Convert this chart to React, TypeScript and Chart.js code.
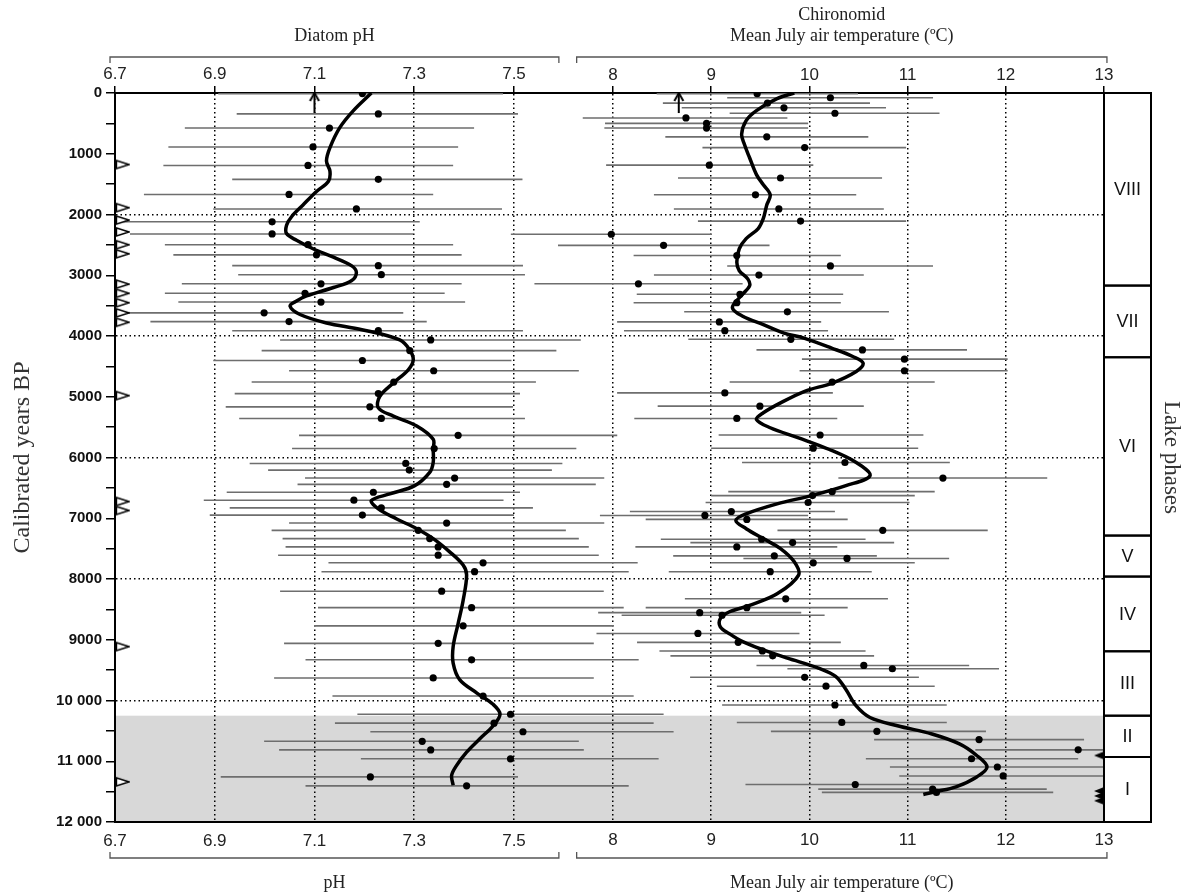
import React, { useEffect, useRef } from 'react';
import { Chart, registerables } from 'chart.js';
Chart.register(...registerables);

const W = 1187;
const H = 894;

// ---------- Diatom-inferred pH samples ----------
const phAge = [10, 344, 577, 888, 1193, 1421, 1670, 1909, 2120, 2320, 2497, 2664, 2842, 2991, 3141, 3297, 3441, 3619, 3763, 3913, 4065, 4240, 4403, 4572, 4758, 4948, 5166, 5357, 5635, 5853, 6098, 6207, 6338, 6442, 6572, 6703, 6829, 6948, 7079, 7199, 7335, 7472, 7608, 7733, 7880, 8201, 8472, 8771, 9059, 9330, 9629, 9927, 10226, 10373, 10514, 10672, 10813, 10960, 11258, 11405];
const phValue = [7.196, 7.228, 7.13, 7.097, 7.087, 7.228, 7.049, 7.184, 7.015, 7.015, 7.087, 7.104, 7.228, 7.234, 7.113, 7.081, 7.113, 6.999, 7.049, 7.228, 7.333, 7.291, 7.196, 7.339, 7.259, 7.228, 7.211, 7.234, 7.388, 7.34, 7.283, 7.29, 7.381, 7.365, 7.218, 7.179, 7.234, 7.196, 7.365, 7.308, 7.331, 7.348, 7.348, 7.438, 7.421, 7.355, 7.415, 7.398, 7.348, 7.415, 7.338, 7.438, 7.493, 7.46, 7.518, 7.316, 7.333, 7.493, 7.212, 7.405];
const phLow = [6.907, 6.944, 6.84, 6.807, 6.797, 6.935, 6.758, 6.897, 6.717, 6.73, 6.8, 6.817, 6.935, 6.947, 6.834, 6.8, 6.827, 6.71, 6.771, 6.935, 7.031, 6.994, 6.897, 7.049, 6.974, 6.94, 6.922, 6.949, 7.069, 7.055, 6.97, 7.007, 7.081, 7.066, 6.924, 6.878, 6.93, 6.89, 7.049, 7.014, 7.036, 7.042, 7.027, 7.128, 7.114, 7.031, 7.107, 7.099, 7.039, 7.082, 7.019, 7.136, 7.186, 7.141, 7.212, 6.999, 7.029, 7.193, 6.912, 7.082];
const phHigh = [7.478, 7.508, 7.42, 7.388, 7.378, 7.517, 7.338, 7.476, 7.311, 7.298, 7.378, 7.395, 7.518, 7.522, 7.395, 7.361, 7.402, 7.278, 7.325, 7.518, 7.634, 7.585, 7.495, 7.63, 7.544, 7.512, 7.498, 7.522, 7.707, 7.625, 7.597, 7.576, 7.681, 7.664, 7.512, 7.479, 7.538, 7.5, 7.681, 7.604, 7.63, 7.65, 7.67, 7.748, 7.73, 7.68, 7.72, 7.7, 7.66, 7.75, 7.66, 7.74, 7.8, 7.78, 7.82, 7.63, 7.64, 7.79, 7.508, 7.73];
// smoothed pH curve
const phCurveAge = [0, 289, 566, 899, 1121, 1288, 1454, 1621, 1843, 2037, 2176, 2314, 2425, 2564, 2703, 2842, 2953, 3091, 3202, 3341, 3424, 3508, 3646, 3785, 3896, 4065, 4229, 4392, 4556, 4774, 4992, 5183, 5319, 5482, 5700, 5864, 6082, 6245, 6463, 6600, 6709, 6845, 7008, 7172, 7335, 7553, 7771, 7935, 8353, 8733, 9113, 9385, 9656, 9873, 10063, 10226, 10416, 10634, 10850, 11068, 11231, 11394];
const phCurveValue = [7.214, 7.178, 7.151, 7.131, 7.124, 7.131, 7.128, 7.104, 7.077, 7.054, 7.044, 7.044, 7.064, 7.097, 7.138, 7.174, 7.184, 7.174, 7.138, 7.084, 7.064, 7.051, 7.071, 7.124, 7.195, 7.271, 7.291, 7.298, 7.288, 7.258, 7.231, 7.228, 7.258, 7.305, 7.338, 7.338, 7.338, 7.331, 7.301, 7.251, 7.214, 7.228, 7.264, 7.305, 7.338, 7.371, 7.398, 7.405, 7.398, 7.388, 7.378, 7.378, 7.391, 7.425, 7.458, 7.472, 7.458, 7.431, 7.405, 7.385, 7.375, 7.378];
// open markers on the pH axis (ages)
const phMarkAge = [1177, 1887, 2092, 2287, 2497, 2647, 3147, 3297, 3452, 3619, 3774, 4981, 6725, 6872, 9113, 11339];

// ---------- Chironomid-inferred July temperature samples ----------
const tAge = [11, 78, 167, 244, 333, 411, 500, 577, 722, 899, 1188, 1399, 1676, 1909, 2109, 2325, 2508, 2675, 2847, 2997, 3141, 3313, 3452, 3602, 3768, 3913, 4054, 4229, 4381, 4572, 4758, 4937, 5155, 5357, 5630, 5847, 6082, 6338, 6562, 6627, 6741, 6889, 6954, 7019, 7199, 7346, 7401, 7472, 7619, 7662, 7733, 7880, 8326, 8472, 8554, 8597, 8896, 9043, 9184, 9265, 9423, 9477, 9618, 9765, 10074, 10361, 10508, 10644, 10812, 10959, 11095, 11242, 11383, 11459, 11513];
const tValue = [9.468, 10.214, 9.573, 9.741, 10.26, 8.743, 8.953, 8.953, 9.566, 9.952, 8.981, 9.706, 9.451, 9.689, 9.91, 7.983, 8.515, 9.261, 10.214, 9.486, 8.259, 9.293, 9.261, 9.776, 9.083, 9.139, 9.811, 10.54, 10.968, 10.968, 10.232, 9.139, 9.496, 9.261, 10.109, 10.039, 10.362, 11.36, 10.232, 10.032, 9.987, 9.205, 8.936, 9.363, 10.747, 9.514, 9.829, 9.261, 9.643, 10.383, 10.039, 9.601, 9.759, 9.363, 8.883, 9.111, 8.865, 9.275, 9.521, 9.626, 10.554, 10.845, 9.952, 10.169, 10.26, 10.33, 10.687, 11.728, 12.737, 11.651, 11.914, 11.973, 10.467, 11.255, 11.294];
const tLow = [8.445, 9.163, 8.508, 8.7, 9.188, 7.692, 7.919, 7.912, 8.533, 8.911, 7.93, 8.662, 8.417, 8.62, 8.865, 6.96, 7.44, 8.21, 9.163, 8.417, 7.2, 8.242, 8.21, 8.725, 8.042, 8.112, 8.767, 9.461, 9.924, 9.9, 9.188, 8.042, 8.455, 8.217, 9.076, 8.999, 9.314, 10.295, 9.174, 8.999, 8.943, 8.172, 7.867, 8.333, 9.675, 8.487, 8.788, 8.228, 8.613, 9.328, 9.006, 8.568, 8.732, 8.333, 7.849, 8.088, 7.832, 8.245, 8.473, 8.585, 9.461, 9.776, 8.785, 9.058, 9.111, 9.261, 9.608, 10.659, 11.69, 10.575, 10.82, 10.915, 9.349, 10.09, 10.127];
const tHigh = [10.495, 11.259, 10.617, 10.78, 11.325, 9.776, 9.987, 9.987, 10.6, 10.985, 10.04, 10.74, 10.477, 10.758, 10.985, 9.006, 9.594, 10.32, 11.259, 10.554, 9.32, 10.344, 10.32, 10.81, 10.12, 10.19, 10.863, 11.605, 12.019, 12.019, 11.276, 10.239, 10.554, 10.284, 11.161, 11.108, 11.43, 12.422, 11.276, 11.073, 11.02, 10.26, 9.987, 10.39, 11.816, 10.572, 10.863, 10.284, 10.687, 11.423, 11.073, 10.635, 10.8, 10.39, 9.917, 10.155, 9.899, 10.32, 10.572, 10.659, 11.627, 11.931, 11.115, 11.276, 11.399, 11.399, 11.798, 12.797, 13.78, 12.737, 13.0, 13.03, 11.58, 12.417, 12.483];
// smoothed temperature curve
const tCurveAge = [0, 94, 289, 455, 677, 844, 1066, 1343, 1510, 1676, 1843, 2065, 2231, 2398, 2564, 2786, 2925, 3064, 3175, 3341, 3535, 3674, 3813, 3952, 4038, 4202, 4338, 4447, 4583, 4774, 4910, 5101, 5264, 5373, 5510, 5673, 5864, 6082, 6300, 6463, 6627, 6763, 6927, 7035, 7172, 7335, 7499, 7717, 7935, 8244, 8434, 8543, 8651, 8787, 8896, 9032, 9168, 9303, 9466, 9602, 9819, 10090, 10280, 10416, 10552, 10715, 10905, 11095, 11258, 11421, 11502, 11546];
const tCurveValue = [9.846, 9.671, 9.461, 9.356, 9.31, 9.338, 9.391, 9.461, 9.531, 9.601, 9.566, 9.531, 9.479, 9.356, 9.286, 9.261, 9.286, 9.374, 9.391, 9.303, 9.216, 9.321, 9.531, 9.741, 9.952, 10.232, 10.442, 10.547, 10.477, 10.232, 9.952, 9.706, 9.531, 9.461, 9.601, 9.882, 10.197, 10.477, 10.617, 10.372, 10.022, 9.671, 9.356, 9.251, 9.356, 9.531, 9.706, 9.846, 9.89, 9.671, 9.391, 9.181, 9.093, 9.093, 9.181, 9.321, 9.531, 9.776, 10.092, 10.267, 10.372, 10.477, 10.617, 10.897, 11.248, 11.528, 11.704, 11.809, 11.704, 11.493, 11.283, 11.16];
// filled markers on the temperature axis (ages)
const tMarkAge = [10905, 11490, 11570, 11650];

// modern values (arrows)
const modernPh = 7.1;
const modernTemp = 8.67;
const modernArrowAge = [330, 0];

// ---------- axes, phases, shading ----------
const phTicks = [6.7, 6.9, 7.1, 7.3, 7.5];
const tTicks = [8, 9, 10, 11, 12, 13];
const phRange = [6.7, 8.683];
const tRange = [2.929, 13];
const phBrace = [6.69, 7.59];
const tBrace = [7.63, 13.03];
const ageRange = [0, 12000];
const shadeAge = [10250, 12000];
const phaseBounds = [0, 3170, 4350, 7285, 7960, 9190, 10250, 10930, 12000];
const phaseLabels = ['VIII', 'VII', 'VI', 'V', 'IV', 'III', 'II', 'I'];

const topPhTitle = 'Diatom pH';
const topTTitle = ['Chironomid', 'Mean July air temperature (\u00baC)'];
const bottomPhTitle = 'pH';
const bottomTTitle = 'Mean July air temperature (\u00baC)';

const SANS = "'Liberation Sans', Arial, sans-serif";
const SERIF = "'Liberation Serif', 'Times New Roman', serif";

function pts(age: number[], val: number[]) {
  return age.map((a, i) => ({ x: val[i], y: a }));
}
function bars(age: number[], lo: number[], hi: number[]) {
  const out: any[] = [];
  age.forEach((a, i) => {
    out.push({ x: lo[i], y: a }, { x: hi[i], y: a }, { x: null, y: null });
  });
  return out;
}
function fmtAge(v: number) {
  if (v % 1000 !== 0) return '';
  return v >= 10000 ? String(v).replace(/(\d)(?=(\d{3})+$)/g, '$1 ') : String(v);
}
function makeCanvas(w: number, h: number, draw: (g: CanvasRenderingContext2D) => void) {
  const c = document.createElement('canvas');
  c.width = w;
  c.height = h;
  const g = c.getContext('2d')!;
  draw(g);
  return c;
}

const decor = {
  id: 'decor',
  beforeDraw(chart: any) {
    const { ctx, chartArea: a, scales } = chart;
    const y = scales.y;
    const y0 = y.getPixelForValue(shadeAge[0]);
    const y1 = y.getPixelForValue(shadeAge[1]);
    ctx.save();
    ctx.fillStyle = '#d8d8d8';
    ctx.fillRect(a.left, y0, a.right - a.left, y1 - y0);
    ctx.restore();
  },
  afterDraw(chart: any) {
    const { ctx, chartArea: a, scales } = chart;
    const xp = scales.xp, xt = scales.xt, y = scales.y;
    ctx.save();
    ctx.strokeStyle = '#555';
    ctx.lineWidth = 1.3;
    const brace = (x0: number, x1: number, yy: number, dir: number) => {
      ctx.beginPath();
      ctx.moveTo(x0, yy + dir * 6);
      ctx.lineTo(x0, yy);
      ctx.lineTo(x1, yy);
      ctx.lineTo(x1, yy + dir * 6);
      ctx.stroke();
    };
    const p0 = xp.getPixelForValue(phBrace[0]);
    const p1 = xp.getPixelForValue(phBrace[1]);
    const t0 = xt.getPixelForValue(tBrace[0]);
    const t1 = xt.getPixelForValue(tBrace[1]);
    brace(p0, p1, 57, 1);
    brace(t0, t1, 57, 1);
    brace(p0, p1, 858, -1);
    brace(t0, t1, 858, -1);
    ctx.fillStyle = '#222';
    ctx.textAlign = 'center';
    ctx.textBaseline = 'middle';
    ctx.font = '18px ' + SERIF;
    ctx.fillText(topPhTitle, (p0 + p1) / 2, 36);
    ctx.fillText(topTTitle[0], (t0 + t1) / 2, 15);
    ctx.fillText(topTTitle[1], (t0 + t1) / 2, 36);
    ctx.fillText(bottomPhTitle, (p0 + p1) / 2, 883);
    ctx.fillText(bottomTTitle, (t0 + t1) / 2, 883);

    // lake phases column
    const cx0 = a.right;
    const cx1 = a.right + 47;
    ctx.strokeStyle = '#000';
    ctx.lineWidth = 2;
    ctx.font = '18px ' + SANS;
    for (let i = 0; i < phaseLabels.length; i++) {
      const ya = y.getPixelForValue(phaseBounds[i]);
      const yb = y.getPixelForValue(phaseBounds[i + 1]);
      ctx.strokeRect(cx0, ya, cx1 - cx0, yb - ya);
      ctx.fillStyle = '#111';
      ctx.fillText(phaseLabels[i], (cx0 + cx1) / 2, (ya + yb) / 2 + 1);
    }
    ctx.restore();
  },
};

export default function App() {
  const ref = useRef<HTMLCanvasElement | null>(null);

  useEffect(() => {
    if (!ref.current) return;
    const triOpen = makeCanvas(30, 12, (g) => {
      g.beginPath();
      g.moveTo(16.5, 2);
      g.lineTo(29, 6);
      g.lineTo(16.5, 10);
      g.closePath();
      g.fillStyle = '#fff';
      g.fill();
      g.lineWidth = 1.4;
      g.strokeStyle = '#000';
      g.stroke();
    });
    const triFilled = makeCanvas(24, 12, (g) => {
      g.beginPath();
      g.moveTo(12, 2);
      g.lineTo(2, 6);
      g.lineTo(12, 10);
      g.closePath();
      g.fillStyle = '#000';
      g.fill();
    });
    const arrowHead = makeCanvas(14, 24, (g) => {
      g.beginPath();
      g.moveTo(2.5, 20);
      g.lineTo(7, 12);
      g.lineTo(11.5, 20);
      g.lineWidth = 2;
      g.strokeStyle = '#000';
      g.stroke();
    });

    const tickFont = { family: SANS, size: 17 };
    const grid = (edge: number) => ({
      color: (c: any) => (c.tick && c.tick.value === edge ? 'rgba(0,0,0,0)' : '#000'),
      tickColor: '#000',
      lineWidth: 1.5,
      tickWidth: 1.5,
      tickLength: 7,
    });
    const border = { display: true, color: '#000', width: 2, dash: [1.5, 3] };

    const chart = new Chart(ref.current, {
      type: 'scatter',
      data: {
        datasets: [
          // curves
          { xAxisID: 'xp', data: pts(phCurveAge, phCurveValue), showLine: true, tension: 0.35, borderColor: '#000', borderWidth: 3.5, pointRadius: 0 },
          { xAxisID: 'xt', data: pts(tCurveAge, tCurveValue), showLine: true, tension: 0.35, borderColor: '#000', borderWidth: 3.5, pointRadius: 0 },
          // modern arrows
          { xAxisID: 'xp', data: modernArrowAge.map((a) => ({ x: modernPh, y: a })), showLine: true, borderColor: '#000', borderWidth: 2, pointRadius: [0, 5], pointStyle: arrowHead as any },
          { xAxisID: 'xt', data: modernArrowAge.map((a) => ({ x: modernTemp, y: a })), showLine: true, borderColor: '#000', borderWidth: 2, pointRadius: [0, 5], pointStyle: arrowHead as any },
          // markers on the axes
          { xAxisID: 'xp', data: phMarkAge.map((a) => ({ x: phRange[0], y: a })), pointStyle: triOpen as any, pointRadius: 5 },
          { xAxisID: 'xt', data: tMarkAge.map((a) => ({ x: tRange[1], y: a })), pointStyle: triFilled as any, pointRadius: 5 },
          // sample points
          { xAxisID: 'xp', data: pts(phAge, phValue), pointRadius: 3.6, pointBackgroundColor: '#000', pointBorderWidth: 0, borderColor: '#000' },
          { xAxisID: 'xt', data: pts(tAge, tValue), pointRadius: 3.6, pointBackgroundColor: '#000', pointBorderWidth: 0, borderColor: '#000' },
          // error bars
          { xAxisID: 'xp', data: bars(phAge, phLow, phHigh), showLine: true, spanGaps: false, borderColor: '#6e6e6e', borderWidth: 1.6, pointRadius: 0 },
          { xAxisID: 'xt', data: bars(tAge, tLow, tHigh), showLine: true, spanGaps: false, borderColor: '#6e6e6e', borderWidth: 1.6, pointRadius: 0 },
        ] as any,
      },
      options: {
        animation: false,
        responsive: false,
        devicePixelRatio: 1,
        layout: { padding: 0 },
        plugins: { legend: { display: false }, tooltip: { enabled: false } },
        scales: {
          y: {
            type: 'linear',
            position: 'left',
            reverse: true,
            min: ageRange[0],
            max: ageRange[1],
            afterFit: (s: any) => { s.width = 115; },
            ticks: { stepSize: 500, autoSkip: false, callback: (v: any) => fmtAge(Number(v)), font: { family: SANS, size: 15, weight: 'bold' }, color: '#111', padding: 4 },
            grid: {
              color: (c: any) => (c.tick && c.tick.value % 2000 === 0 && c.tick.value > ageRange[0] && c.tick.value < ageRange[1] ? '#000' : 'rgba(0,0,0,0)'),
              tickColor: '#000',
              lineWidth: 1.5,
              tickWidth: 1.5,
              tickLength: 9,
            },
            border,
            title: { display: true, text: 'Calibrated years BP', font: { family: SERIF, size: 24 }, color: '#333', padding: { top: 8, bottom: 0 } },
          },
          yr: {
            type: 'linear',
            position: 'right',
            reverse: true,
            min: ageRange[0],
            max: ageRange[1],
            afterFit: (s: any) => { s.width = 83; },
            ticks: { display: false },
            grid: { display: false },
            border: { display: true, color: '#000', width: 2 },
            title: { display: true, text: 'Lake phases', font: { family: SERIF, size: 23 }, color: '#333', padding: { top: 2, bottom: 0 } },
          },
          xp: {
            type: 'linear',
            position: 'top',
            weight: 1,
            min: phRange[0],
            max: phRange[1],
            afterBuildTicks: (s: any) => { s.ticks = phTicks.map((v) => ({ value: v })); },
            afterFit: (s: any) => { s.height = 93; },
            ticks: { autoSkip: false, maxRotation: 0, callback: (v: any) => Number(v).toFixed(1), font: tickFont, color: '#222', padding: 1 },
            grid: grid(phRange[0]),
            border,
          },
          xt: {
            type: 'linear',
            position: 'top',
            weight: 0,
            min: tRange[0],
            max: tRange[1],
            afterBuildTicks: (s: any) => { s.ticks = tTicks.map((v) => ({ value: v })); },
            afterFit: (s: any) => { s.height = 0; },
            ticks: { autoSkip: false, maxRotation: 0, mirror: true, callback: (v: any) => String(v), font: tickFont, color: '#222', padding: -28 },
            grid: grid(tRange[1]),
            border,
          },
          xpb: {
            type: 'linear',
            position: 'bottom',
            weight: 1,
            min: phRange[0],
            max: phRange[1],
            afterBuildTicks: (s: any) => { s.ticks = phTicks.map((v) => ({ value: v })); },
            afterFit: (s: any) => { s.height = H - 822; },
            ticks: { autoSkip: false, maxRotation: 0, callback: (v: any) => Number(v).toFixed(1), font: tickFont, color: '#222', padding: 9 },
            grid: { display: false, drawTicks: false },
            border: { display: true, color: '#000', width: 2 },
          },
          xtb: {
            type: 'linear',
            position: 'bottom',
            weight: 0,
            min: tRange[0],
            max: tRange[1],
            afterBuildTicks: (s: any) => { s.ticks = tTicks.map((v) => ({ value: v })); },
            afterFit: (s: any) => { s.height = 0; },
            ticks: { autoSkip: false, maxRotation: 0, mirror: true, callback: (v: any) => String(v), font: tickFont, color: '#222', padding: -29 },
            grid: { display: false, drawTicks: false },
            border: { display: false },
          },
        } as any,
      },
      plugins: [decor],
    } as any);

    return () => chart.destroy();
  }, []);

  return (
    <div style={{ position: 'absolute', left: 0, top: 0, width: W, height: H, background: '#fff' }}>
      <canvas ref={ref} width={W} height={H} style={{ display: 'block' }} />
    </div>
  );
}
